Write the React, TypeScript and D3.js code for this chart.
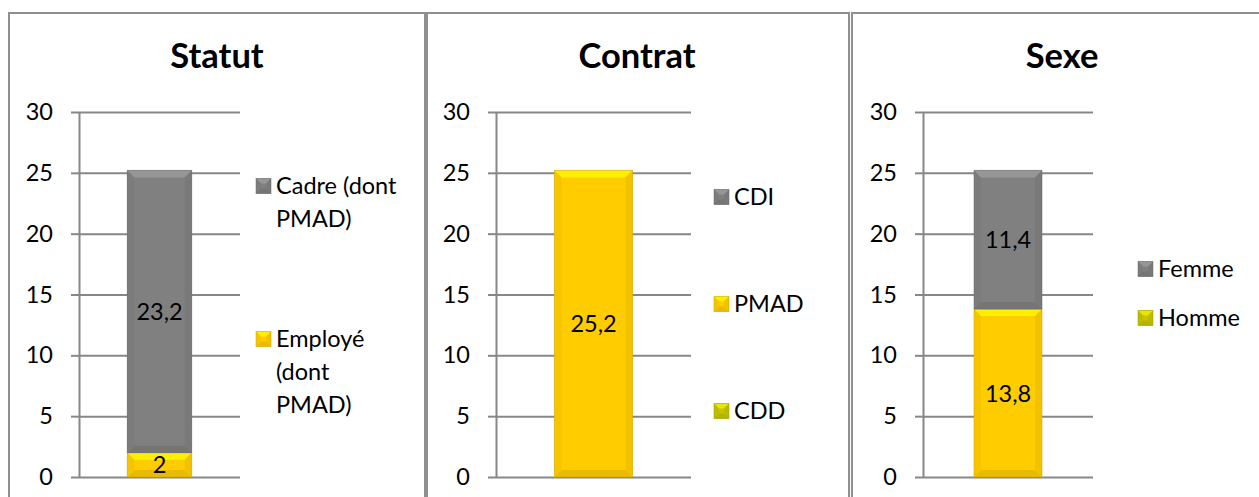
import React, { useEffect, useRef } from 'react';
import * as d3 from 'd3';

// --- data ---
const panelTitles = ['Statut', 'Contrat', 'Sexe'];

const statutNames = ['Employé (dont PMAD)', 'Cadre (dont PMAD)'];
const statutValues = [2, 23.2];

const contratNames = ['CDD', 'PMAD', 'CDI'];
const contratValues = [0, 25.2, 0];

const sexeNames = ['Homme', 'Femme'];
const sexeValues = [13.8, 11.4];

const yTicks = [0, 5, 10, 15, 20, 25, 30];

const GRAY = '#808080';
const GOLD = '#ffcc00';
const OLIVE = '#c4c400';

// colours per series (bar, legend marker)
const statutColors = [[GOLD, GOLD], [GRAY, GRAY]];
const contratColors = [[OLIVE, OLIVE], [GOLD, GOLD], [GRAY, GRAY]];
const sexeColors = [[GOLD, OLIVE], [GRAY, GRAY]];

// layout of each panel
const layout = [
  { x0: 9, x1: 425, plot: [79, 240], legendX: 256, legendY: [339, 186], wrap: 132, titleX: 217 },
  { x0: 427, x1: 849, plot: [496, 691], legendX: 714, legendY: [411, 304, 197], wrap: 200, titleX: 637 },
  { x0: 852, x1: 1275, plot: [923, 1093], legendX: 1138, legendY: [318, 269], wrap: 200, titleX: 1062 },
];

const FONT = 'Lato, Calibri, "Noto Sans", sans-serif';
const FS = 23.5;

function shade(c: string, k: number) {
  const col = d3.color(c)!;
  return k > 0 ? col.brighter(k).formatHex() : col.darker(-k).formatHex();
}

function bevelRect(g: any, x0: number, y0: number, x1: number, y1: number, color: string, depth: number) {
  const h = y1 - y0;
  if (h <= 0) return;
  const b = Math.min(depth, h / 2, (x1 - x0) / 2);
  g.append('rect').attr('x', x0).attr('y', y0).attr('width', x1 - x0).attr('height', h).attr('fill', color);
  const poly = (pts: number[][], fill: string) =>
    g.append('polygon').attr('points', pts.map(p => p.join(',')).join(' ')).attr('fill', fill);
  poly([[x0, y0], [x1, y0], [x1 - b, y0 + b], [x0 + b, y0 + b]], shade(color, 0.45));
  poly([[x0, y1], [x1, y1], [x1 - b, y1 - b], [x0 + b, y1 - b]], shade(color, -0.25));
  poly([[x0, y0], [x0 + b, y0 + b], [x0 + b, y1 - b], [x0, y1]], shade(color, -0.1));
  poly([[x1, y0], [x1 - b, y0 + b], [x1 - b, y1 - b], [x1, y1]], shade(color, -0.15));
  g.append('rect').attr('x', x0).attr('y', y0).attr('width', x1 - x0).attr('height', h)
    .attr('fill', 'none').attr('stroke', shade(color, -0.6)).attr('stroke-opacity', 0.5).attr('stroke-width', 1);
}

const App: React.FC = () => {
  const svgRef = useRef<SVGSVGElement>(null);

  useEffect(() => {
    if (!svgRef.current) return;
    const svg = d3.select(svgRef.current);
    svg.selectAll('*').remove();

    const y = d3.scaleLinear().domain([0, 30]).range([477, 112]);

    const panels = [
      { names: statutNames, values: statutValues, colors: statutColors },
      { names: contratNames, values: contratValues, colors: contratColors },
      { names: sexeNames, values: sexeValues, colors: sexeColors },
    ];

    panels.forEach((p, i) => {
      const L = layout[i];
      const g = svg.append('g');

      // frame
      g.append('rect').attr('x', L.x0).attr('y', 13).attr('width', L.x1 - L.x0).attr('height', 520)
        .attr('fill', 'white').attr('stroke', '#8f8f8f').attr('stroke-width', 2);

      g.append('text').attr('x', L.titleX).attr('y', 68).attr('text-anchor', 'middle')
        .attr('font-family', FONT).attr('font-weight', 700).attr('font-size', 34.5).attr('fill', '#000')
        .text(panelTitles[i]);

      const [px0, px1] = L.plot;
      // grid
      g.append('g').attr('transform', `translate(${px0},0)`)
        .call(d3.axisLeft(y).tickValues(yTicks).tickSize(-(px1 - px0)).tickFormat(() => ''))
        .call((a: any) => a.select('.domain').remove())
        .call((a: any) => a.selectAll('line').attr('stroke', '#878787').attr('stroke-width', 2));
      // axis
      const ax = g.append('g').attr('transform', `translate(${px0},0)`)
        .call(d3.axisLeft(y).tickValues(yTicks).tickSize(8).tickSizeOuter(0).tickPadding(18));
      ax.select('.domain').attr('stroke', '#878787').attr('stroke-width', 2);
      ax.selectAll('line').attr('stroke', '#878787').attr('stroke-width', 2);
      ax.selectAll('text').attr('font-family', FONT).attr('font-size', FS).attr('fill', '#000');

      const x = d3.scaleBand<string>().domain([panelTitles[i]]).range([px0, px1]).padding(0.4286);
      const bx0 = x(panelTitles[i])!;
      const bx1 = bx0 + x.bandwidth();

      const stack = d3.stack<any>().keys(p.names)([Object.fromEntries(p.names.map((n, k) => [n, p.values[k]]))]);
      stack.forEach((s, k) => {
        const [v0, v1] = s[0];
        if (v1 - v0 <= 0) return;
        bevelRect(g, bx0, y(v1), bx1, y(v0), p.colors[k][0], 7);
        g.append('text').attr('x', (bx0 + bx1) / 2).attr('y', y((v0 + v1) / 2)).attr('dy', '0.36em')
          .attr('text-anchor', 'middle').attr('font-family', FONT).attr('font-size', FS).attr('fill', '#000')
          .text(d3.format('.1~f')(p.values[k]).replace('.', ','));
      });

      // legend
      p.names.forEach((n, k) => {
        const ly = L.legendY[k];
        bevelRect(g, L.legendX, ly - 7.5, L.legendX + 15, ly + 7.5, p.colors[k][1], 5);
        const t = g.append('text').attr('font-family', FONT).attr('font-size', FS).attr('fill', '#000');
        const tx = L.legendX + 20;
        const words = n.split(' ');
        let line: string[] = [];
        let j = 0;
        let span = t.append('tspan').attr('x', tx).attr('y', ly).attr('dy', '0.36em');
        words.forEach(w => {
          line.push(w);
          span.text(line.join(' '));
          if ((span.node() as SVGTextContentElement).getComputedTextLength() > L.wrap && line.length > 1) {
            line.pop();
            span.text(line.join(' '));
            line = [w];
            j += 1;
            span = t.append('tspan').attr('x', tx).attr('y', ly + j * 33).attr('dy', '0.36em').text(w);
          }
        });
      });
    });
  }, []);

  return (
    <svg ref={svgRef} width={1259} height={497}
      style={{ position: 'absolute', left: 0, top: 0, background: '#fff', display: 'block' }} />
  );
};

export default App;
